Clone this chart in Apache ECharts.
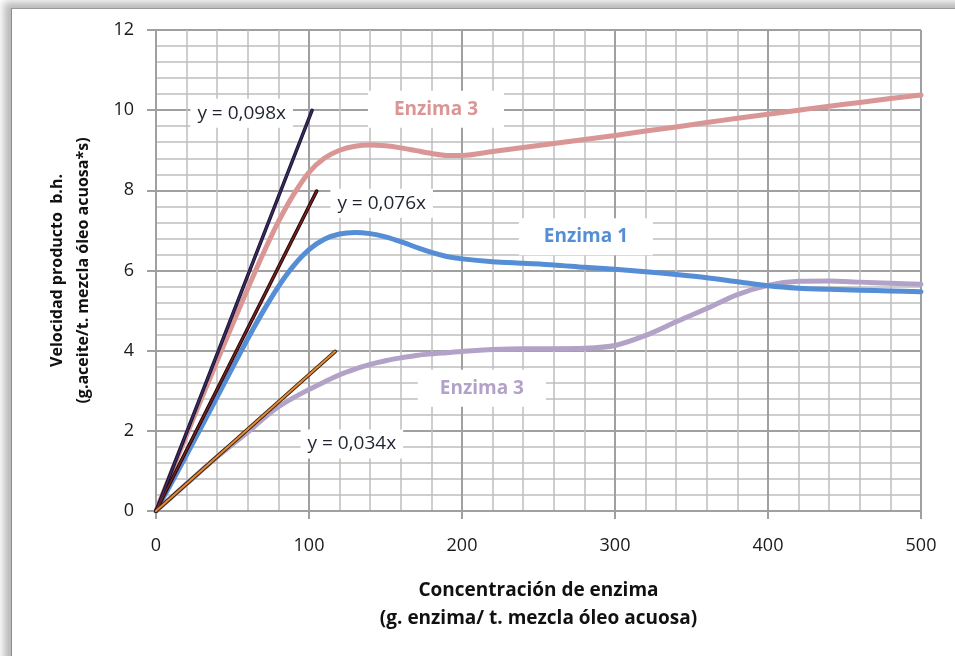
<!DOCTYPE html>
<html>
<head>
<meta charset="utf-8">
<script src="https://cdn.jsdelivr.net/npm/echarts@6/dist/echarts.min.js"></script>
<style>
  html, body { margin: 0; padding: 0; width: 955px; height: 656px; overflow: hidden; background: #fff; }
  #frame {
    position: absolute; left: 11px; top: 8px; width: 1100px; height: 800px;
    background: #fff; border-left: 1px solid #8c8c8c; border-top: 1px solid #9a9a9a;
    box-shadow: -4px -3px 8px 3px rgba(0,0,0,0.28);
  }
  #chart { position: absolute; left: 0; top: 0; width: 955px; height: 656px; }
</style>
</head>
<body>
<div id="frame"></div>
<div id="chart"></div>
<script>
// Enzyme concentration (g enzima / t mezcla); denser sampling around the bends
const concentracion = [0, 20, 40, 60, 70, 80, 90, 100, 110, 120, 130, 140, 150, 160, 170,
  180, 190, 200, 220, 240, 260, 280, 300, 320, 340, 360, 380, 400, 420, 440, 460, 480, 500];

// Product rate curves
const enzima3Alta = [0, 1.9, 3.75, 5.55, 6.42, 7.22, 7.9, 8.45, 8.8, 9.0, 9.1, 9.13, 9.11,
  9.06, 8.99, 8.92, 8.87, 8.87, 8.97, 9.07, 9.17, 9.27, 9.37, 9.48, 9.58, 9.69, 9.8, 9.9,
  10.0, 10.1, 10.19, 10.29, 10.38];
const enzima1 = [0, 1.4, 2.85, 4.3, 4.98, 5.6, 6.12, 6.52, 6.78, 6.91, 6.95, 6.92, 6.84,
  6.72, 6.58, 6.45, 6.35, 6.29, 6.22, 6.18, 6.14, 6.08, 6.03, 5.97, 5.9, 5.82, 5.72, 5.62,
  5.56, 5.53, 5.51, 5.49, 5.47];
const enzima3Baja = [0, 0.68, 1.35, 1.97, 2.3, 2.6, 2.83, 3.03, 3.22, 3.4, 3.54, 3.66, 3.75,
  3.82, 3.88, 3.92, 3.95, 3.98, 4.03, 4.05, 4.05, 4.06, 4.13, 4.38, 4.72, 5.05, 5.4, 5.63,
  5.73, 5.74, 5.71, 5.68, 5.66];

// Initial-rate trend lines y = m·x
const pendientes = [0.098, 0.076, 0.034];
const finTendencia = [102, 105, 117];
const etiquetasTendencia = ['y = 0,098x', 'y = 0,076x', 'y = 0,034x'];

// Axis ticks
const ticksX = [0, 100, 200, 300, 400, 500];
const ticksY = [0, 2, 4, 6, 8, 10, 12];

const FONT = '"Open Sans", Lato, sans-serif';

const pares = (ys) => concentracion.map((x, i) => [x, ys[i]]);
const tendencia = (k) => [[0, 0], [finTendencia[k], pendientes[k] * finTendencia[k]]];

// Placement of the boxed annotations (axis units)
const notas = [
  { text: etiquetasTendencia[0], at: [56, 9.92], color: '#1f2430', bold: false, size: 19, pad: [5, 7] },
  { text: etiquetasTendencia[1], at: [147.5, 7.68], color: '#1f2430', bold: false, size: 19, pad: [5, 7] },
  { text: etiquetasTendencia[2], at: [128, 1.67], color: '#1f2430', bold: false, size: 19, pad: [5, 7] },
  { text: 'Enzima 3', at: [183, 10.02], color: '#D99694', bold: true, size: 19, pad: [9, 26] },
  { text: 'Enzima 1', at: [281, 6.84], color: '#558ED5', bold: true, size: 19, pad: [9, 25] },
  { text: 'Enzima 3', at: [213, 3.06], color: '#B3A2C7', bold: true, size: 19, pad: [9, 22] }
];

const gridMayor = { show: true, lineStyle: { color: '#a0a0a0', width: 2 } };
const gridMenor = { show: true, lineStyle: { color: '#bfbfbf', width: 1.5 } };

function linea(name, data, color, width, z, smooth) {
  return {
    name, type: 'line', data, smooth: smooth, showSymbol: false, z,
    lineStyle: { color, width, cap: 'round', join: 'round' }, silent: true, animation: false
  };
}

const option = {
  animation: false,
  grid: { left: 156, right: 34, top: 30, bottom: 145 },
  xAxis: {
    type: 'value', min: ticksX[0], max: ticksX[ticksX.length - 1], interval: 100,
    name: 'Concentración de enzima\n(g. enzima/ t. mezcla óleo acuosa)',
    nameLocation: 'middle', nameGap: 66,
    nameTextStyle: { fontFamily: FONT, fontWeight: 'bold', fontSize: 19, color: '#111', lineHeight: 28 },
    axisLine: { show: true, onZero: false, lineStyle: { color: '#a0a0a0', width: 2 } },
    axisTick: { show: true, length: 8, lineStyle: { color: '#a0a0a0', width: 2 } },
    axisLabel: { fontFamily: FONT, fontSize: 18, color: '#1a1a1a', margin: 26 },
    splitLine: gridMayor,
    minorTick: { show: false, splitNumber: 5 },
    minorSplitLine: gridMenor
  },
  yAxis: {
    type: 'value', min: ticksY[0], max: ticksY[ticksY.length - 1], interval: 2,
    name: 'Velocidad producto  b.h.\n(g.aceite/t. mezcla óleo acuosa*s)',
    nameLocation: 'middle', nameGap: 60, nameRotate: 90,
    nameTextStyle: { fontFamily: FONT, fontWeight: 'bold', fontSize: 16, color: '#111', lineHeight: 26 },
    axisLine: { show: true, lineStyle: { color: '#a0a0a0', width: 2 } },
    axisTick: { show: true, length: 9, lineStyle: { color: '#a0a0a0', width: 2 } },
    axisLabel: { fontFamily: FONT, fontSize: 18, color: '#1a1a1a', margin: 22 },
    splitLine: gridMayor,
    minorTick: { show: false, splitNumber: 5 },
    minorSplitLine: gridMenor
  },
  series: [
    linea('Enzima 3', pares(enzima3Alta), '#D99694', 5, 3, 0.3),
    linea('Enzima 3 (b)', pares(enzima3Baja), '#B3A2C7', 5, 3, 0.3),
    linea('Enzima 1', pares(enzima1), '#558ED5', 5, 3, 0.3),
    // Trend lines: dark outline under a coloured core
    linea('t1o', tendencia(0), '#1b1430', 3.5, 4, false),
    linea('t1', tendencia(0), '#3a2c62', 1.6, 5, false),
    linea('t2o', tendencia(1), '#1e0808', 3.5, 4, false),
    linea('t2', tendencia(1), '#7a2020', 1.6, 5, false),
    linea('t3o', tendencia(2), '#3b2208', 3.8, 4, false),
    linea('t3', tendencia(2), '#e08c3c', 2, 5, false)
  ]
};

const chart = echarts.init(document.getElementById('chart'), null, { renderer: 'canvas' });
chart.setOption(option);

// White-boxed annotation texts, placed through the grid's coordinate system
chart.setOption({
  graphic: notas.map(n => {
    const p = chart.convertToPixel({ gridIndex: 0 }, n.at);
    return {
      type: 'text', x: p[0], y: p[1], z: 1, silent: true,
      style: {
        text: n.text, fill: n.color, align: 'center', verticalAlign: 'middle',
        font: (n.bold ? 'bold ' : '') + n.size + 'px ' + FONT,
        backgroundColor: '#fff', padding: n.pad
      }
    };
  })
});
</script>
</body>
</html>
